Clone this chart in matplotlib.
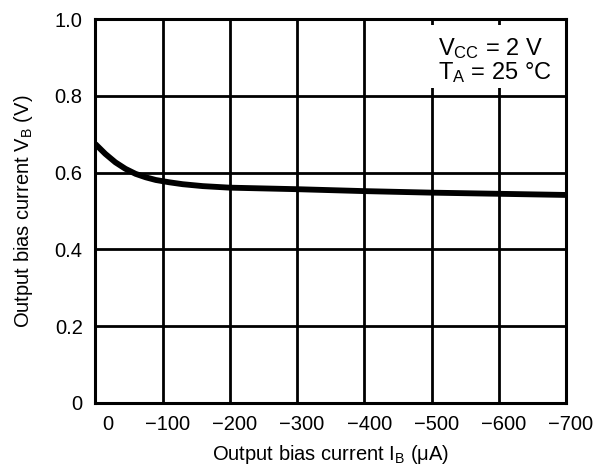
import matplotlib
matplotlib.use('Agg')

import numpy as np
import matplotlib.pyplot as plt
import matplotlib.transforms as mtransforms
from matplotlib.patches import Rectangle

plt.rcParams['font.family'] = ['Liberation Sans', 'DejaVu Sans']
plt.rcParams['mathtext.default'] = 'regular'

# curve
ib = [0, -15, -30, -45, -60, -75, -90, -110, -130, -160, -200, -300, -400, -500, -600, -700]
vb = [0.675, 0.649, 0.627, 0.610, 0.597, 0.588, 0.581, 0.575, 0.570, 0.565, 0.561, 0.557, 0.552, 0.548, 0.545, 0.542]

xticks = [0, -100, -200, -300, -400, -500, -600, -700]
yticks = [0, 0.2, 0.4, 0.6, 0.8, 1.0]
ytick_labels = ['0', '0.2', '0.4', '0.6', '0.8', '1.0']

fig = plt.figure(figsize=(5.99, 4.68), dpi=100)
ax = fig.add_axes([0.159, 0.139, 0.786, 0.82])

ax.plot(ib, vb, color='black', lw=4.2, solid_capstyle='butt', zorder=3)

ax.set_xlim(0, -700)
ax.set_ylim(0, 1.0)
ax.set_xticks(xticks)
ax.set_xticklabels(['0'] + ['\u2212%d' % -v for v in xticks[1:]])
ax.set_yticks(yticks)
ax.set_yticklabels(ytick_labels)
ax.tick_params(length=0, labelsize=14.5, pad=9)
ax.grid(True, color='black', lw=2.0)
for s in ax.spines.values():
    s.set_linewidth(2.2)

# nudge x labels a bit right like the scan
for i, lab in enumerate(ax.get_xticklabels()):
    dx = 13 if i == 0 else 5
    lab.set_transform(lab.get_transform() + mtransforms.ScaledTranslation(dx / 100, 0, fig.dpi_scale_trans))

ax.set_xlabel('Output bias current I$_B$ ($\\mu$A)', fontsize=14.5, labelpad=6)
ax.set_ylabel('Output bias current V$_B$ (V)', fontsize=14.5, labelpad=14)

# white patch behind the conditions text, hiding the grid
ax.add_patch(Rectangle((0.70, 0.82), 0.287, 0.164, transform=ax.transAxes,
                       facecolor='white', edgecolor='none', zorder=2))
ax.text(0.727, 0.955, 'V$_{CC}$ = 2 V\nT$_A$ = 25 \u00b0C', transform=ax.transAxes,
        fontsize=17, va='top', ha='left', linespacing=0.95, zorder=4)

plt.savefig('out.png', dpi=100)
